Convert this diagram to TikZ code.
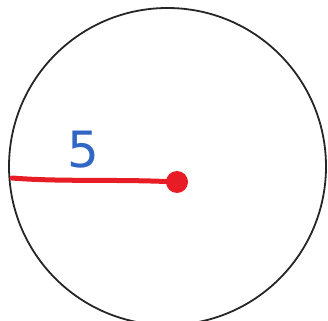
\documentclass[tikz,border=0pt]{standalone}
\usepackage{fontspec}
\setmainfont{DejaVu Sans}
\usepackage{tikz}
\definecolor{radred}{RGB}{232,28,36}
\definecolor{lblblue}{RGB}{48,102,196}

\begin{document}
\begin{tikzpicture}[
  x=1pt, y=-1pt,
  rim/.style={draw=black!85, line width=1.8pt},
  radius line/.style={radred, line width=5pt, line cap=round},
  centre dot/.style={circle, fill=radred, inner sep=0pt, minimum size=22pt},
  lbl/.style={text=lblblue, font=\fontsize{50}{50}\selectfont, inner sep=0pt}
]
  \useasboundingbox (0,0) rectangle (328,320);
  \draw[rim] (167.5,166.5) circle[radius=158.5];

  \node[centre dot] (ctr) at (177,182) {};
  \coordinate (edge) at (12,178);
  \node[lbl] (five) at (83,150) {5};

  \draw[radius line] (edge) .. controls (60,182) and (120,179) .. (ctr.center);
\end{tikzpicture}
\end{document}
